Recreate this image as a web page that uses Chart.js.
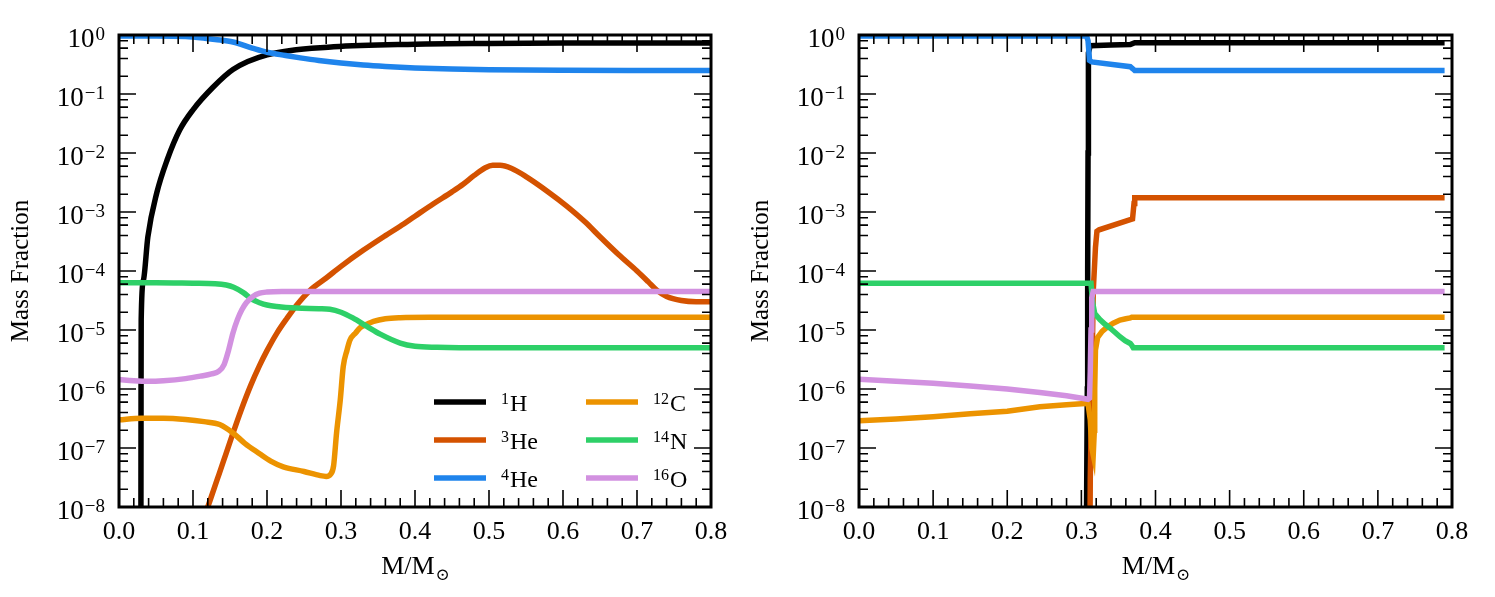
<!DOCTYPE html>
<html>
<head>
<meta charset="utf-8">
<script src="https://cdn.jsdelivr.net/npm/chart.js@4.4.1/dist/chart.umd.min.js"></script>
<style>
html, body { margin: 0; padding: 0; background: #fff; }
body { width: 1495px; height: 597px; position: relative; overflow: hidden; }
.panel { position: absolute; top: 0; }
</style>
</head>
<body>
<div class="panel" style="left:0"><canvas id="leftChart" width="740" height="597"></canvas></div>
<div class="panel" style="left:740px"><canvas id="rightChart" width="755" height="597"></canvas></div>
<script>
// isotopes, in legend order
const massNumbers = ['1', '3', '4', '12', '14', '16'];
const elements = ['H', 'He', 'He', 'C', 'N', 'O'];
const colors = ['#000000', '#d45200', '#1f84ec', '#ec9300', '#2ed068', '#d291e0'];

// axis ticks
const xTicks = [0, 0.1, 0.2, 0.3, 0.4, 0.5, 0.6, 0.7, 0.8];
const yTicks = [1e-8, 1e-7, 1e-6, 1e-5, 1e-4, 1e-3, 1e-2, 1e-1, 1];
const yTickExponents = ['−8', '−7', '−6', '−5', '−4', '−3', '−2', '−1', '0'];

// --- left panel ---
const leftH1X = [0.0295, 0.0298, 0.030, 0.033, 0.039, 0.051, 0.065, 0.082, 0.100, 0.127, 0.154, 0.200, 0.290, 0.400, 0.500, 0.600, 0.800];
const leftH1Y = [1e-10, 1e-6, 1.5e-5, 7e-5, 3.8e-4, 2.1e-3, 7.6e-3, 0.0245, 0.054, 0.13, 0.26, 0.46, 0.63, 0.70, 0.72, 0.73, 0.735];

const leftHe3X = [0.11, 0.123, 0.135, 0.145, 0.154, 0.165, 0.178, 0.19, 0.2, 0.213, 0.227, 0.24, 0.258, 0.28, 0.3, 0.33, 0.36, 0.38, 0.4, 0.425, 0.45, 0.465, 0.48, 0.495, 0.505, 0.515, 0.53, 0.55, 0.58, 0.605, 0.63, 0.65, 0.675, 0.7, 0.715, 0.727, 0.74, 0.76, 0.78, 0.8];
const leftHe3Y = [4.4e-9, 1.29e-8, 3.55e-8, 8.3e-8, 1.78e-7, 4.37e-7, 1.15e-6, 2.51e-6, 4.47e-6, 8.7e-6, 1.58e-5, 2.63e-5, 4.68e-5, 7.6e-5, 1.2e-4, 2.24e-4, 3.98e-4, 5.75e-4, 8.5e-4, 1.38e-3, 2.19e-3, 2.95e-3, 4.17e-3, 5.62e-3, 6.17e-3, 6.17e-3, 5.5e-3, 3.98e-3, 2.19e-3, 1.26e-3, 6.76e-4, 3.8e-4, 1.9e-4, 1e-4, 6.6e-5, 4.68e-5, 3.7e-5, 3.16e-5, 3.02e-5, 3.02e-5];

const leftHe4X = [0, 0.05, 0.09, 0.11, 0.13, 0.154, 0.18, 0.2, 0.225, 0.245, 0.27, 0.3, 0.33, 0.36, 0.4, 0.45, 0.5, 0.6, 0.7, 0.8];
const leftHe4Y = [0.96, 0.96, 0.94, 0.9, 0.84, 0.76, 0.6, 0.51, 0.45, 0.41, 0.37, 0.335, 0.31, 0.293, 0.277, 0.265, 0.258, 0.252, 0.25, 0.25];

const leftC12X = [0, 0.03, 0.06, 0.09, 0.115, 0.136, 0.154, 0.17, 0.19, 0.205, 0.222, 0.25, 0.272, 0.28, 0.286, 0.29, 0.294, 0.299, 0.303, 0.308, 0.312, 0.32, 0.326, 0.335, 0.344, 0.36, 0.38, 0.42, 0.5, 0.6, 0.8];
const leftC12Y = [3.0e-7, 3.2e-7, 3.2e-7, 3.05e-7, 2.8e-7, 2.5e-7, 1.8e-7, 1.2e-7, 8e-8, 6e-8, 4.8e-8, 4e-8, 3.4e-8, 3.3e-8, 3.6e-8, 5e-8, 1.8e-7, 6.5e-7, 2.4e-6, 4.5e-6, 6.7e-6, 9e-6, 1.1e-5, 1.25e-5, 1.4e-5, 1.55e-5, 1.62e-5, 1.65e-5, 1.65e-5, 1.65e-5, 1.65e-5];

const leftN14X = [0, 0.05, 0.1, 0.13, 0.145, 0.155, 0.168, 0.18, 0.19, 0.2, 0.213, 0.24, 0.27, 0.285, 0.3, 0.316, 0.335, 0.353, 0.38, 0.4, 0.43, 0.5, 0.6, 0.8];
const leftN14Y = [6.3e-5, 6.3e-5, 6.2e-5, 6.1e-5, 5.8e-5, 5.3e-5, 4.3e-5, 3.3e-5, 2.9e-5, 2.65e-5, 2.5e-5, 2.35e-5, 2.3e-5, 2.25e-5, 2.0e-5, 1.6e-5, 1.15e-5, 8.5e-6, 6e-6, 5.3e-6, 5.1e-6, 5e-6, 5e-6, 5e-6];

const leftO16X = [0, 0.02, 0.04, 0.06, 0.09, 0.11, 0.125, 0.135, 0.142, 0.148, 0.154, 0.16, 0.166, 0.172, 0.181, 0.19, 0.2, 0.22, 0.3, 0.8];
const leftO16Y = [1.45e-6, 1.38e-6, 1.35e-6, 1.38e-6, 1.5e-6, 1.65e-6, 1.8e-6, 2.0e-6, 2.6e-6, 4.5e-6, 8.9e-6, 1.5e-5, 2.2e-5, 2.9e-5, 3.7e-5, 4.2e-5, 4.4e-5, 4.5e-5, 4.5e-5, 4.5e-5];

// --- right panel ---
const rightH1X = [0.306, 0.307, 0.308, 0.3085, 0.309, 0.3095, 0.312, 0.34, 0.366, 0.372, 0.79];
const rightH1Y = [1e-10, 1e-8, 1e-6, 1e-4, 1e-2, 0.5, 0.66, 0.675, 0.69, 0.74, 0.74];

const rightHe3X = [0.311, 0.312, 0.314, 0.316, 0.319, 0.321, 0.324, 0.366, 0.369, 0.371, 0.372, 0.79];
const rightHe3Y = [1e-10, 3e-8, 1e-6, 4.5e-5, 2.5e-4, 4.7e-4, 5.0e-4, 7.4e-4, 7.6e-4, 1.4e-3, 1.75e-3, 1.75e-3];

const rightHe4X = [0, 0.1, 0.2, 0.307, 0.309, 0.311, 0.314, 0.366, 0.369, 0.372, 0.79];
const rightHe4Y = [0.96, 0.96, 0.96, 0.96, 0.8, 0.37, 0.35, 0.29, 0.27, 0.25, 0.25];

const rightC12X = [0, 0.05, 0.1, 0.15, 0.2, 0.244, 0.28, 0.305, 0.309, 0.312, 0.314, 0.316, 0.3175, 0.318, 0.319, 0.322, 0.328, 0.334, 0.343, 0.352, 0.36, 0.366, 0.368, 0.79];
const rightC12Y = [2.9e-7, 3.1e-7, 3.4e-7, 3.8e-7, 4.2e-7, 5.0e-7, 5.4e-7, 5.7e-7, 5.6e-7, 3e-7, 1e-7, 7.6e-8, 2e-7, 1e-6, 4.6e-6, 7.5e-6, 9.5e-6, 1.1e-5, 1.3e-5, 1.47e-5, 1.55e-5, 1.6e-5, 1.65e-5, 1.65e-5];

const rightN14X = [0, 0.1, 0.2, 0.3, 0.313, 0.315, 0.318, 0.325, 0.332, 0.339, 0.346, 0.352, 0.359, 0.366, 0.368, 0.37, 0.79];
const rightN14Y = [6.2e-5, 6.2e-5, 6.2e-5, 6.2e-5, 6.2e-5, 3e-5, 1.9e-5, 1.5e-5, 1.25e-5, 1.07e-5, 9e-6, 7.7e-6, 6.6e-6, 5.9e-6, 5.5e-6, 5e-6, 5e-6];

const rightO16X = [0, 0.05, 0.1, 0.15, 0.2, 0.244, 0.28, 0.309, 0.311, 0.312, 0.313, 0.314, 0.316, 0.79];
const rightO16Y = [1.47e-6, 1.35e-6, 1.25e-6, 1.12e-6, 1.0e-6, 8.7e-7, 7.7e-7, 6.7e-7, 7e-7, 2e-6, 1e-5, 3.5e-5, 4.5e-5, 4.5e-5];

const leftSeries = [[leftH1X, leftH1Y], [leftHe3X, leftHe3Y], [leftHe4X, leftHe4Y], [leftC12X, leftC12Y], [leftN14X, leftN14Y], [leftO16X, leftO16Y]];
const rightSeries = [[rightH1X, rightH1Y], [rightHe3X, rightHe3Y], [rightHe4X, rightHe4Y], [rightC12X, rightC12Y], [rightN14X, rightN14Y], [rightO16X, rightO16Y]];

const SERIF = '"Liberation Serif", "DejaVu Serif", serif';

function makeDatasets(series, smooth) {
    return series.map(([xs, ys], i) => ({
        label: massNumbers[i] + elements[i],
        data: xs.map((x, k) => ({ x: x, y: ys[k] })),
        borderColor: colors[i],
        borderWidth: 5.5,
        pointRadius: 0,
        fill: false,
        clip: 0,
        order: 6 - i, // later isotopes drawn on top
        cubicInterpolationMode: smooth ? 'monotone' : 'default',
        tension: 0
    }));
}

// inward ticks on all four sides + thick frame + 10^n labels
const frameTicks = {
    id: 'frameTicks',
    afterDatasetsDraw(chart) {
        const { ctx, chartArea: a, scales: { x, y } } = chart;
        ctx.save();
        ctx.strokeStyle = '#000';
        ctx.lineWidth = 1.6;
        ctx.beginPath();
        const xt = (v, len) => {
            const px = x.getPixelForValue(v);
            ctx.moveTo(px, a.bottom); ctx.lineTo(px, a.bottom - len);
            ctx.moveTo(px, a.top); ctx.lineTo(px, a.top + len);
        };
        const yt = (v, len) => {
            const py = y.getPixelForValue(v);
            ctx.moveTo(a.left, py); ctx.lineTo(a.left + len, py);
            ctx.moveTo(a.right, py); ctx.lineTo(a.right - len, py);
        };
        for (let i = 0; i <= 40; i++) {
            xt(i * 0.02, i % 5 === 0 ? 17 : 9);
        }
        yTicks.forEach(v => yt(v, 17));
        for (let e = -8; e < 0; e++) {
            [2, 4, 6, 8].forEach(m => yt(m * Math.pow(10, e), 9));
        }
        ctx.stroke();
        ctx.lineWidth = 3;
        ctx.strokeRect(a.left, a.top, a.right - a.left, a.bottom - a.top);

        // y tick labels as 10 with a raised exponent
        ctx.fillStyle = '#000';
        ctx.textAlign = 'right';
        ctx.textBaseline = 'alphabetic';
        const right = a.left - 14;
        yTicks.forEach((v, i) => {
            const py = y.getPixelForValue(v);
            ctx.font = '19px ' + SERIF;
            const ew = ctx.measureText(yTickExponents[i]).width;
            ctx.fillText(yTickExponents[i], right, py + 5);
            ctx.font = '27px ' + SERIF;
            ctx.fillText('10', right - ew - 1, py + 12);
        });
        ctx.restore();
    }
};

// x label with subscript sun symbol
const xLabel = {
    id: 'xLabel',
    afterDraw(chart) {
        const { ctx, chartArea: a } = chart;
        ctx.save();
        ctx.fillStyle = '#000';
        ctx.textBaseline = 'alphabetic';
        ctx.font = '26px ' + SERIF;
        const main = 'M/M';
        const w1 = ctx.measureText(main).width;
        ctx.font = '17px ' + SERIF;
        const w2 = ctx.measureText('⊙').width;
        const x0 = (a.left + a.right) / 2 - (w1 + w2) / 2;
        ctx.font = '26px ' + SERIF;
        ctx.fillText(main, x0, 574);
        ctx.font = '17px ' + SERIF;
        ctx.fillText('⊙', x0 + w1 + 1, 580);
        ctx.restore();
    }
};

// two-column legend inside the left panel
const isotopeLegend = {
    id: 'isotopeLegend',
    afterDraw(chart) {
        const { ctx, chartArea: a } = chart;
        ctx.save();
        massNumbers.forEach((m, i) => {
            const col = Math.floor(i / 3), row = i % 3;
            const x1 = a.left + (col === 0 ? 315 : 467);
            const x2 = x1 + 52;
            const yy = a.top + 367 + row * 38;
            ctx.strokeStyle = colors[i];
            ctx.lineWidth = 5.5;
            ctx.beginPath();
            ctx.moveTo(x1, yy); ctx.lineTo(x2, yy);
            ctx.stroke();
            ctx.fillStyle = '#000';
            ctx.textBaseline = 'alphabetic';
            let tx = x2 + 15;
            ctx.font = '16px ' + SERIF;
            ctx.fillText(m, tx, yy + 2);
            tx += ctx.measureText(m).width + 1;
            ctx.font = '24px ' + SERIF;
            ctx.fillText(elements[i], tx, yy + 9);
        });
        ctx.restore();
    }
};

function makeChart(canvasId, series, smooth, rightPad, withLegend) {
    const plugins = [frameTicks, xLabel];
    if (withLegend) plugins.push(isotopeLegend);
    return new Chart(document.getElementById(canvasId), {
        type: 'line',
        data: { datasets: makeDatasets(series, smooth) },
        options: {
            responsive: false,
            animation: false,
            layout: { padding: { top: 35, right: rightPad, left: 0, bottom: 0 } },
            plugins: { legend: { display: false }, tooltip: { enabled: false } },
            scales: {
                x: {
                    type: 'linear',
                    min: 0,
                    max: 0.8,
                    grid: { display: false, drawTicks: false },
                    border: { display: false },
                    afterBuildTicks: s => { s.ticks = xTicks.map(v => ({ value: v })); },
                    afterFit: s => { s.height = 90; },
                    ticks: {
                        padding: 10,
                        maxRotation: 0,
                        color: '#000',
                        font: { family: SERIF, size: 26 },
                        callback: v => Number(v).toFixed(1)
                    }
                },
                y: {
                    type: 'logarithmic',
                    min: 1e-8,
                    max: 1,
                    grid: { display: false, drawTicks: false },
                    border: { display: false },
                    afterBuildTicks: s => { s.ticks = yTicks.map(v => ({ value: v })); },
                    afterFit: s => { s.width = 119; },
                    title: {
                        display: true,
                        text: 'Mass Fraction',
                        color: '#000',
                        font: { family: SERIF, size: 25 },
                        padding: { top: 6, bottom: 0 }
                    },
                    ticks: { display: false }
                }
            }
        },
        plugins: plugins
    });
}

makeChart('leftChart', leftSeries, true, 29, true);
makeChart('rightChart', rightSeries, false, 43, false);
</script>
</body>
</html>
